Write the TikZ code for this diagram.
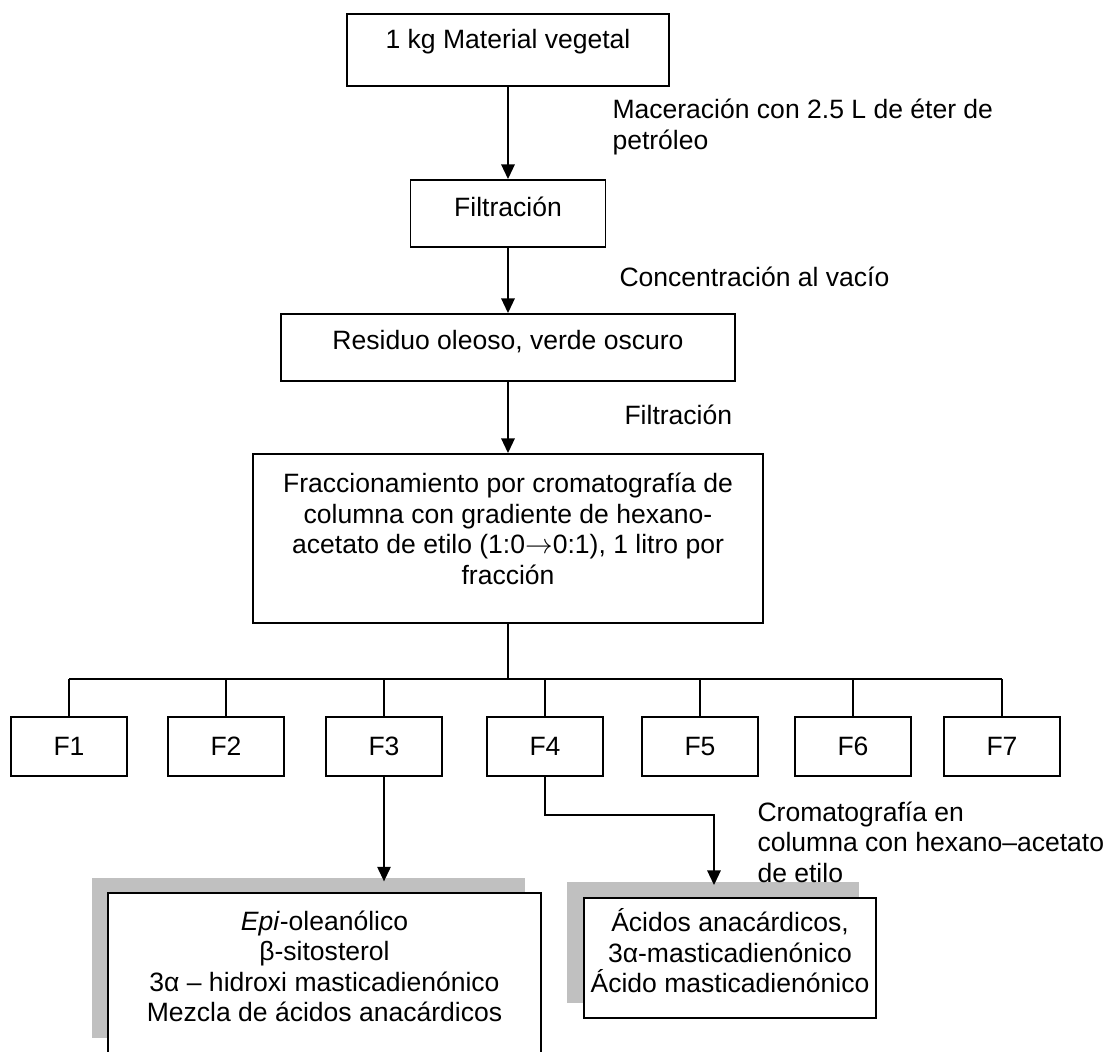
\documentclass[tikz,border=0pt]{standalone}
\usepackage{fontspec}
\setmainfont{Liberation Sans}
\usetikzlibrary{arrows.meta}

\definecolor{sombra}{RGB}{192,192,192}
\tikzset{every picture/.style={line width=0.75pt}}
\tikzset{
  caja/.style={draw, line width=1.4pt, fill=white, inner sep=0pt},
  fbox/.style={caja, minimum width=87pt, minimum height=44.25pt},
  flecha/.style={line width=1.5pt, -{Triangle[length=11pt,width=10pt]}},
  rama/.style={line width=1pt},
  nota/.style={anchor=west, inner sep=0pt, align=left},
}

\begin{document}
\begin{tikzpicture}[x=0.75pt,y=0.75pt,yscale=-1,xscale=1,font=\fontsize{19.9}{22.9}\selectfont]
\useasboundingbox (0,0) rectangle (1110,1051);

%Shape: Rectangle [material]
\node[caja, minimum width=241.5pt, minimum height=54pt] (mat) at (508,50) {};
%Shape: Rectangle [filtracion]
\node[caja, minimum width=146.25pt, minimum height=50.25pt] (filt) at (508,213.5) {};
%Shape: Rectangle [residuo]
\node[caja, minimum width=340.5pt, minimum height=50.25pt] (res) at (508,347.5) {};
%Shape: Rectangle [fraccionamiento]
\node[caja, minimum width=382.5pt, minimum height=126.75pt] (frac) at (508,538.5) {};

%Shape: Rectangle [fracciones F1..F7]
\foreach \i/\x in {1/69,2/226,3/384,4/545,5/700,6/853,7/1002}
  \node[fbox] (F\i) at (\x,746.5) {F\i};

%Shape: Shadows
\fill[sombra] (92,878) rectangle (525,1038);
\fill[sombra] (567,882) rectangle (859,1003);
%Shape: Rectangle [resultados]
\node[caja, minimum width=324.75pt, minimum height=120pt] (izq) at (324.5,973) {};
\node[caja, minimum width=219pt, minimum height=90pt] (der) at (730,958) {};

%Straight Lines [flujo principal]
\draw[flecha] (mat) -- (filt);
\draw[flecha] (filt) -- (res);
\draw[flecha] (res) -- (frac);

%Straight Lines [reparto]
\coordinate (bus) at (0,679);
\draw[rama] (frac.south) -- (frac.south |- bus);
\draw[rama] (F1.north |- bus) -- (F7.north |- bus);
\foreach \i in {1,...,7}
  \draw[rama] (F\i.north |- bus) -- (F\i.north);

%Straight Lines [F3 y F4]
\draw[flecha, shorten >=8pt] (F3.south) -- (F3.south |- izq.north);
\draw[flecha, shorten >=9pt] (F4.south) -- ++(0,38) -| ([xshift=-12pt]der.north);

% Text Node
\node (tmat) at (508,42) {1 kg Material vegetal};
% Text Node
\node (tfilt) at (508,207) {Filtración};
% Text Node
\node (tres) at (508,342) {Residuo oleoso, verde oscuro};
% Text Node
\node[align=center] (tfrac) at (508,529) {Fraccionamiento por cromatografía de\\ columna con gradiente de hexano-\\ acetato de etilo (1:0$\rightarrow$0:1), 1 litro por\\ fracción};
% Text Node
\node[align=center] (tizq) at (324.5,966.5) {\textit{Epi}-oleanólico\\ β-sitosterol\\ 3α – hidroxi masticadienónico\\ Mezcla de ácidos anacárdicos};
% Text Node
\node[align=center] (tder) at (730,951) {Ácidos anacárdicos,\\ 3α-masticadienónico\\ Ácido masticadienónico};

% Text Node
\node[nota] (nmac) at (612,127) {Maceración con 2.5 L de éter de\\ petróleo};
% Text Node
\node[nota] (ncon) at (619,277) {Concentración al vacío};
% Text Node
\node[nota] (nfil) at (624,415) {Filtración};
% Text Node
\node[nota] (ncro) at (757,842) {Cromatografía en\\ columna con hexano–acetato\\ de etilo};

\end{tikzpicture}
\end{document}
